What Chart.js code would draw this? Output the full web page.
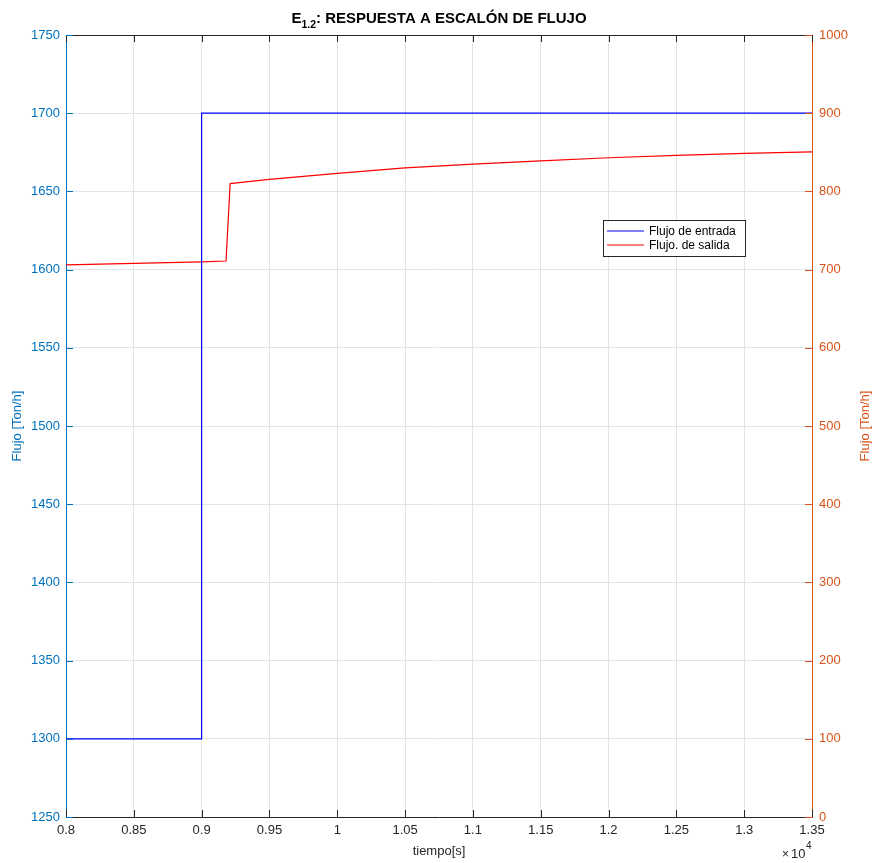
<!DOCTYPE html>
<html>
<head>
<meta charset="utf-8">
<script src="https://cdn.jsdelivr.net/npm/chart.js@4"></script>
<style>
  body { margin: 0; background: #fff; }
  #grafico { display: block; }
</style>
</head>
<body>
<canvas id="grafico" width="874" height="863"></canvas>
<script>
// tiempo en unidades de x10^4 s
var tiempoEntrada = [0.8, 0.9, 0.9, 1.35];
var flujoEntrada = [1300, 1300, 1700, 1700];

var tiempoSalida = [0.8, 0.85, 0.9, 0.918, 0.921, 0.95, 1.0, 1.05, 1.1, 1.15, 1.2, 1.25, 1.3, 1.35];
var flujoSalida = [706, 708, 710, 711, 810, 815.5, 823, 830, 835, 839, 843, 846, 848.5, 850.5];

var ejeIzq = { min: 1250, max: 1750, paso: 50 };
var ejeDer = { min: 0, max: 1000, paso: 100 };
var ejeX = { min: 0.8, max: 1.35, paso: 0.05 };

var AZUL_EJE = '#0072BD';
var NARANJA_EJE = '#D95319';
var GRIS = '#262626';
var FUENTE = "'Liberation Sans', Arial, sans-serif";

function puntos(xs, ys) {
    return xs.map(function (x, i) { return { x: x, y: ys[i] }; });
}

// titulo, borde superior, ticks hacia adentro, leyenda, titulo derecho y x10^4
var extras = {
    id: 'extras',
    afterDraw: function (chart) {
        var ctx = chart.ctx;
        var a = chart.chartArea;
        var sx = chart.scales.x, sy = chart.scales.y, sy1 = chart.scales.y1;
        ctx.save();

        // borde superior
        ctx.strokeStyle = GRIS;
        ctx.lineWidth = 1;
        ctx.beginPath();
        ctx.moveTo(a.left, a.top + 0.5);
        ctx.lineTo(a.right, a.top + 0.5);
        ctx.stroke();

        // ticks hacia adentro
        sx.ticks.forEach(function (t) {
            var px = Math.round(sx.getPixelForValue(t.value)) + 0.5;
            ctx.beginPath();
            ctx.moveTo(px, a.bottom); ctx.lineTo(px, a.bottom - 7);
            ctx.moveTo(px, a.top); ctx.lineTo(px, a.top + 7);
            ctx.stroke();
        });
        ctx.strokeStyle = AZUL_EJE;
        sy.ticks.forEach(function (t) {
            var py = Math.round(sy.getPixelForValue(t.value)) + 0.5;
            ctx.beginPath();
            ctx.moveTo(a.left, py); ctx.lineTo(a.left + 7, py);
            ctx.stroke();
        });
        ctx.strokeStyle = NARANJA_EJE;
        sy1.ticks.forEach(function (t) {
            var py = Math.round(sy1.getPixelForValue(t.value)) + 0.5;
            ctx.beginPath();
            ctx.moveTo(a.right, py); ctx.lineTo(a.right - 7, py);
            ctx.stroke();
        });

        // titulo con subindice
        var cx = (a.left + a.right) / 2;
        var fT = 'bold 15px ' + FUENTE;
        var fS = 'bold 10.5px ' + FUENTE;
        ctx.fillStyle = '#000';
        ctx.textBaseline = 'alphabetic';
        ctx.font = fT;
        var wE = ctx.measureText('E').width;
        var resto = ': RESPUESTA A ESCALÓN DE FLUJO';
        var wR = ctx.measureText(resto).width;
        ctx.font = fS;
        var wS = ctx.measureText('1.2').width;
        var x0 = cx - (wE + wS + wR) / 2;
        ctx.font = fT;
        ctx.textAlign = 'left';
        ctx.fillText('E', x0, 23);
        ctx.font = fS;
        ctx.fillText('1.2', x0 + wE, 28);
        ctx.font = fT;
        ctx.fillText(resto, x0 + wE + wS, 23);

        // titulo eje derecho (leido de abajo hacia arriba)
        ctx.save();
        ctx.translate(865, (a.top + a.bottom) / 2);
        ctx.rotate(-Math.PI / 2);
        ctx.fillStyle = NARANJA_EJE;
        ctx.font = '13px ' + FUENTE;
        ctx.textAlign = 'center';
        ctx.textBaseline = 'middle';
        ctx.fillText('Flujo [Ton/h]', 0, 0);
        ctx.restore();

        // x10^4
        ctx.fillStyle = GRIS;
        ctx.textAlign = 'left';
        ctx.textBaseline = 'alphabetic';
        ctx.font = '12px ' + FUENTE;
        ctx.fillText('\u00d7', 782, 858);
        ctx.font = '13px ' + FUENTE;
        ctx.fillText('10', 791, 858);
        ctx.font = '10px ' + FUENTE;
        ctx.fillText('4', 806, 849);

        // leyenda
        var lx = 603.5, ly = 220.5, lw = 142, lh = 36;
        ctx.fillStyle = '#fff';
        ctx.fillRect(lx, ly, lw, lh);
        ctx.strokeStyle = GRIS;
        ctx.lineWidth = 1;
        ctx.strokeRect(lx, ly, lw, lh);
        ctx.font = '12px ' + FUENTE;
        ctx.textBaseline = 'middle';
        chart.data.datasets.forEach(function (ds, i) {
            var yy = 231 + i * 14;
            ctx.strokeStyle = ds.borderColor;
            ctx.beginPath();
            ctx.moveTo(607, yy); ctx.lineTo(644, yy);
            ctx.stroke();
            ctx.fillStyle = '#000';
            ctx.fillText(ds.label, 649, yy + 0.5);
        });
        ctx.restore();
    }
};

function etiqueta(v) { return String(Math.round(v * 100) / 100); }

var ctx = document.getElementById('grafico').getContext('2d');
var grafico = new Chart(ctx, {
    type: 'line',
    data: {
        datasets: [
            {
                label: 'Flujo de entrada',
                data: puntos(tiempoEntrada, flujoEntrada),
                borderColor: '#0000ff',
                borderWidth: 1.2,
                pointRadius: 0,
                tension: 0,
                yAxisID: 'y',
            },
            {
                label: 'Flujo. de salida',
                data: puntos(tiempoSalida, flujoSalida),
                borderColor: '#ff0000',
                borderWidth: 1.2,
                pointRadius: 0,
                tension: 0,
                yAxisID: 'y1',
            },
        ],
    },
    options: {
        responsive: false,
        animation: false,
        layout: { padding: { top: 35, left: 0, right: 0, bottom: 0 } },
        plugins: {
            legend: { display: false },
            title: { display: false },
            tooltip: { enabled: false },
        },
        scales: {
            x: {
                type: 'linear',
                min: ejeX.min,
                max: ejeX.max,
                afterFit: function (s) { s.height = 46; },
                ticks: {
                    stepSize: ejeX.paso,
                    color: GRIS,
                    padding: 6,
                    maxRotation: 0,
                    font: { family: FUENTE, size: 13 },
                    callback: etiqueta,
                },
                grid: { color: '#e3e3e3', drawTicks: false },
                border: { color: GRIS, width: 1 },
                title: {
                    display: true,
                    text: 'tiempo[s]',
                    color: GRIS,
                    font: { family: FUENTE, size: 13 },
                    padding: { top: 0, bottom: 4 },
                },
            },
            y: {
                position: 'left',
                min: ejeIzq.min,
                max: ejeIzq.max,
                afterFit: function (s) { s.width = 66; },
                ticks: {
                    stepSize: ejeIzq.paso,
                    color: AZUL_EJE,
                    padding: 6,
                    font: { family: FUENTE, size: 13 },
                    callback: etiqueta,
                },
                grid: { color: '#dde6ee', drawTicks: false },
                border: { color: AZUL_EJE, width: 1 },
                title: {
                    display: true,
                    text: 'Flujo [Ton/h]',
                    color: AZUL_EJE,
                    font: { family: FUENTE, size: 13 },
                    padding: { top: 10, bottom: 0 },
                },
            },
            y1: {
                position: 'right',
                min: ejeDer.min,
                max: ejeDer.max,
                afterFit: function (s) { s.width = 62; },
                ticks: {
                    stepSize: ejeDer.paso,
                    color: NARANJA_EJE,
                    padding: 7,
                    font: { family: FUENTE, size: 13 },
                    callback: etiqueta,
                },
                grid: { display: false, drawTicks: false },
                border: { color: NARANJA_EJE, width: 1 },
                title: { display: false },
            },
        },
    },
    plugins: [extras],
});
</script>
</body>
</html>
